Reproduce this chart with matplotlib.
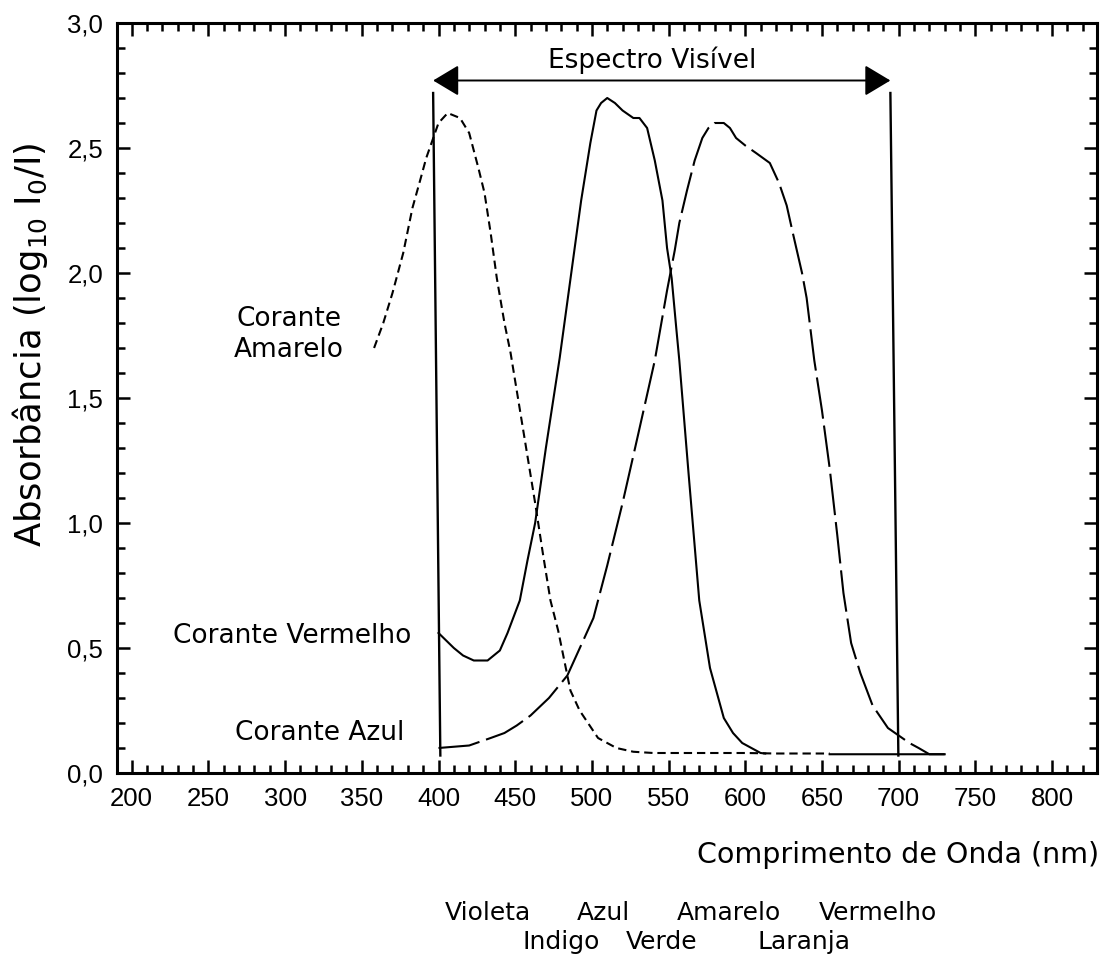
import numpy as np
import matplotlib
matplotlib.use("Agg")
import matplotlib.pyplot as plt
from matplotlib.ticker import MultipleLocator, FuncFormatter

plt.rcParams['lines.scale_dashes'] = False
plt.rcParams['mathtext.fontset'] = 'dejavusans'

# ---------------- data ----------------
yellow_x = [358, 364, 370, 377, 383, 388, 392, 396, 400, 406, 414, 420, 426, 430, 434,
            438, 443, 447, 455, 463, 468, 473, 478, 486, 492, 504, 510, 516, 527, 540,
            560, 580, 600, 620, 640, 655]
yellow_y = [1.70, 1.80, 1.92, 2.08, 2.26, 2.37, 2.46, 2.53, 2.60, 2.64, 2.62, 2.56, 2.42, 2.32, 2.16,
            1.98, 1.80, 1.68, 1.38, 1.08, 0.88, 0.69, 0.57, 0.33, 0.25, 0.14, 0.12, 0.10, 0.085, 0.08,
            0.08, 0.08, 0.08, 0.078, 0.078, 0.078]

red_x = [400, 405, 410, 416, 423, 432, 440, 445, 453, 458, 463, 470, 479, 487, 493, 499, 503,
         506, 510, 515, 520, 527, 531, 536, 541, 546, 549, 552, 555, 557, 563, 570, 577, 586,
         592, 598, 604, 610, 613, np.nan, 655, 730]
red_y = [0.56, 0.53, 0.50, 0.47, 0.45, 0.45, 0.49, 0.56, 0.69, 0.85, 1.00, 1.30, 1.66, 2.02, 2.29,
         2.52, 2.65, 2.68, 2.70, 2.68, 2.65, 2.62, 2.62, 2.58, 2.45, 2.29, 2.10, 1.98, 1.78, 1.65,
         1.20, 0.69, 0.42, 0.22, 0.16, 0.12, 0.10, 0.08, 0.078, np.nan, 0.075, 0.075]

blue_x = [400, 410, 420, 434, 443, 451, 460, 472, 484, 501, 510, 520, 530, 541, 549, 554, 557,
          562, 567, 572, 576, 580, 586, 590, 594, 600, 607, 616, 622, 627, 631, 637, 640, 645,
          650, 655, 660, 664, 669, 675, 683, 693, 700, 707, 713, 720, 730]
blue_y = [0.10, 0.105, 0.11, 0.14, 0.16, 0.19, 0.23, 0.30, 0.39, 0.62, 0.83, 1.08, 1.35, 1.65,
          1.93, 2.09, 2.20, 2.33, 2.45, 2.54, 2.58, 2.60, 2.60, 2.58, 2.54, 2.51, 2.48, 2.44, 2.36,
          2.27, 2.16, 2.00, 1.90, 1.65, 1.45, 1.22, 0.95, 0.72, 0.52, 0.40, 0.27, 0.18, 0.15, 0.12,
          0.10, 0.075, 0.075]

# visible-spectrum boundary lines (slightly skewed in the scan)
vis_top_x = [396.5, 694.6]
vis_bot_x = [401.2, 699.8]
vis_top_y = 2.72
vis_bot_y = 0.07
arrow_y = 2.77

x_ticks = [200, 250, 300, 350, 400, 450, 500, 550, 600, 650, 700, 750, 800]
y_ticks = [0.0, 0.5, 1.0, 1.5, 2.0, 2.5, 3.0]

color_row1 = ["Violeta", "Azul", "Amarelo", "Vermelho"]
color_row1_px = [488, 603, 729, 878]
color_row2 = ["Indigo", "Verde", "Laranja"]
color_row2_px = [561, 662, 804]

# ---------------- figure ----------------
W, H = 1104, 959
fig = plt.figure(figsize=(W / 100, H / 100), dpi=100)
ax = fig.add_axes([117 / W, (H - 773) / H, (1097 - 117) / W, (773 - 23) / H])

ax.plot(yellow_x, yellow_y, color='black', lw=1.5, linestyle=(0, (6, 3.5)))
ax.plot(red_x, red_y, color='black', lw=1.5)
ax.plot(blue_x, blue_y, color='black', lw=1.5, linestyle=(0, (30, 5)))

for xt, xb in zip(vis_top_x, vis_bot_x):
    ax.plot([xt, xb], [vis_top_y, vis_bot_y], color='black', lw=1.7)

ax.annotate('', xy=(vis_top_x[0], arrow_y), xytext=(vis_top_x[1], arrow_y),
            arrowprops=dict(arrowstyle='<|-|>,head_length=1.0,head_width=0.6',
                            mutation_scale=16, color='black', lw=1.4,
                            shrinkA=0, shrinkB=0))

txt_kw = dict(family='DejaVu Sans', fontsize=19, color='black')
ax.text(539, 2.85, 'Espectro Visível', ha='center', va='center', **txt_kw)
ax.text(302.5, 1.755, 'Corante\nAmarelo', ha='center', va='center', linespacing=1.25, **txt_kw)
ax.text(304.4, 0.548, 'Corante Vermelho', ha='center', va='center', **txt_kw)
ax.text(322.6, 0.160, 'Corante Azul', ha='center', va='center', **txt_kw)

ax.set_xlim(190.4, 829.3)
ax.set_ylim(0, 3.0)
ax.set_xticks(x_ticks)
ax.set_yticks(y_ticks)
ax.xaxis.set_minor_locator(MultipleLocator(10))
ax.yaxis.set_minor_locator(MultipleLocator(0.1))
ax.yaxis.set_major_formatter(FuncFormatter(lambda v, p: f"{v:.1f}".replace('.', ',')))
ax.xaxis.set_major_formatter(FuncFormatter(lambda v, p: f"{v:.0f}"))

ax.tick_params(which='both', direction='in', top=True, right=True, width=1.8,
               labelsize=18.5, pad=10)
ax.tick_params(which='major', length=9.5)
ax.tick_params(which='minor', length=5.5)
for lab in ax.get_xticklabels() + ax.get_yticklabels():
    lab.set_family('Liberation Sans')
for sp in ax.spines.values():
    sp.set_linewidth(2.2)

fig.text(1099 / W, 1 - 855 / H, 'Comprimento de Onda (nm)', ha='right', va='center',
         family='DejaVu Sans', fontsize=20.5)
fig.text(30 / W, 1 - 345 / H, r'Absorbância (log$_{10}$ I$_{0}$/I)', rotation=90,
         ha='center', va='center', family='DejaVu Sans', fontsize=25.5)

for name, px in zip(color_row1, color_row1_px):
    fig.text(px / W, 1 - 913 / H, name, ha='center', va='center', family='DejaVu Sans', fontsize=18)
for name, px in zip(color_row2, color_row2_px):
    fig.text(px / W, 1 - 942 / H, name, ha='center', va='center', family='DejaVu Sans', fontsize=18)

fig.savefig('out.png', dpi=100, facecolor='white')
